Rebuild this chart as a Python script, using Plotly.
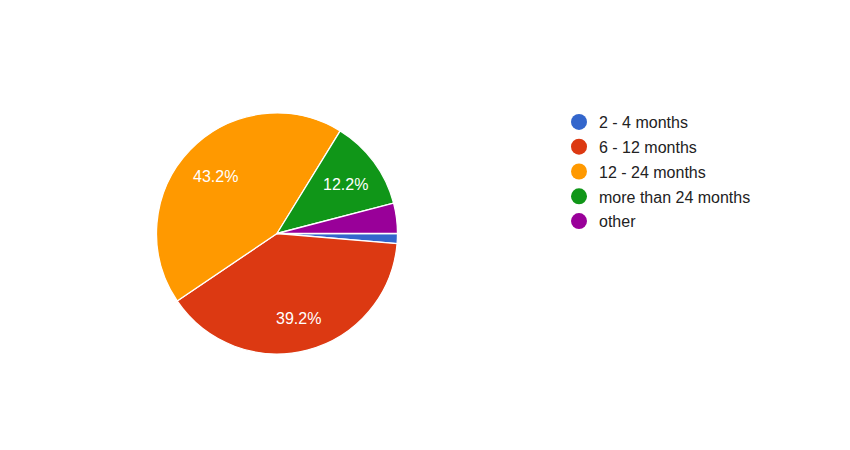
import math
import plotly.graph_objects as go

categories = ["2 - 4 months", "6 - 12 months", "12 - 24 months", "more than 24 months", "other"]
counts = [1, 29, 32, 9, 3]
colors = ["#3366cc", "#dc3912", "#ff9900", "#109618", "#990099"]

total = sum(counts)

W, H = 850, 450
# figure coords (page body has an 8px offset)
cx, cy, r = 269, 225.5, 120.5

fig = go.Figure()
fig.add_trace(go.Pie(
    labels=categories,
    values=counts,
    marker=dict(colors=colors, line=dict(color="white", width=1.3)),
    sort=False,
    direction="clockwise",
    rotation=90,
    textinfo="none",
    showlegend=False,
    hoverinfo="label+percent",
    domain=dict(x=[(cx - r) / W, (cx + r) / W], y=[1 - (cy + r) / H, 1 - (cy - r) / H]),
))

# percentage labels at ~71% of radius, at each slice's mid-angle (clockwise from 3 o'clock)
cum = 0
for c in counts:
    frac = c / total
    mid = (cum + frac / 2) * 2 * math.pi
    cum += frac
    if frac < 0.05:
        continue
    px = cx + 0.71 * r * math.cos(mid)
    py = cy + 0.71 * r * math.sin(mid) + 2
    fig.add_annotation(
        x=px / W, y=1 - py / H, xref="paper", yref="paper",
        text=f"{frac * 100:.1f}%", showarrow=False,
        font=dict(color="white", size=16, family="Liberation Sans, Arial"),
        xanchor="center", yanchor="middle",
    )

for i, (name, col) in enumerate(zip(categories, colors)):
    fig.add_trace(go.Scatter(
        x=[None], y=[None], mode="markers", name=name,
        marker=dict(color=col, size=16, symbol="circle"),
        legendgroup=str(i), showlegend=True,
    ))

fig.update_layout(
    width=W, height=H,
    margin=dict(l=0, r=0, t=0, b=0),
    paper_bgcolor="white", plot_bgcolor="white",
    xaxis=dict(visible=False), yaxis=dict(visible=False),
    legend=dict(
        x=551 / W, y=1 - 97 / H, xanchor="left", yanchor="top",
        font=dict(size=16, color="#222222", family="Liberation Sans, Arial"),
        tracegroupgap=1, itemsizing="trace",
        bgcolor="rgba(0,0,0,0)",
    ),
    font=dict(family="Liberation Sans, Arial"),
)

fig.write_html("out.html")
